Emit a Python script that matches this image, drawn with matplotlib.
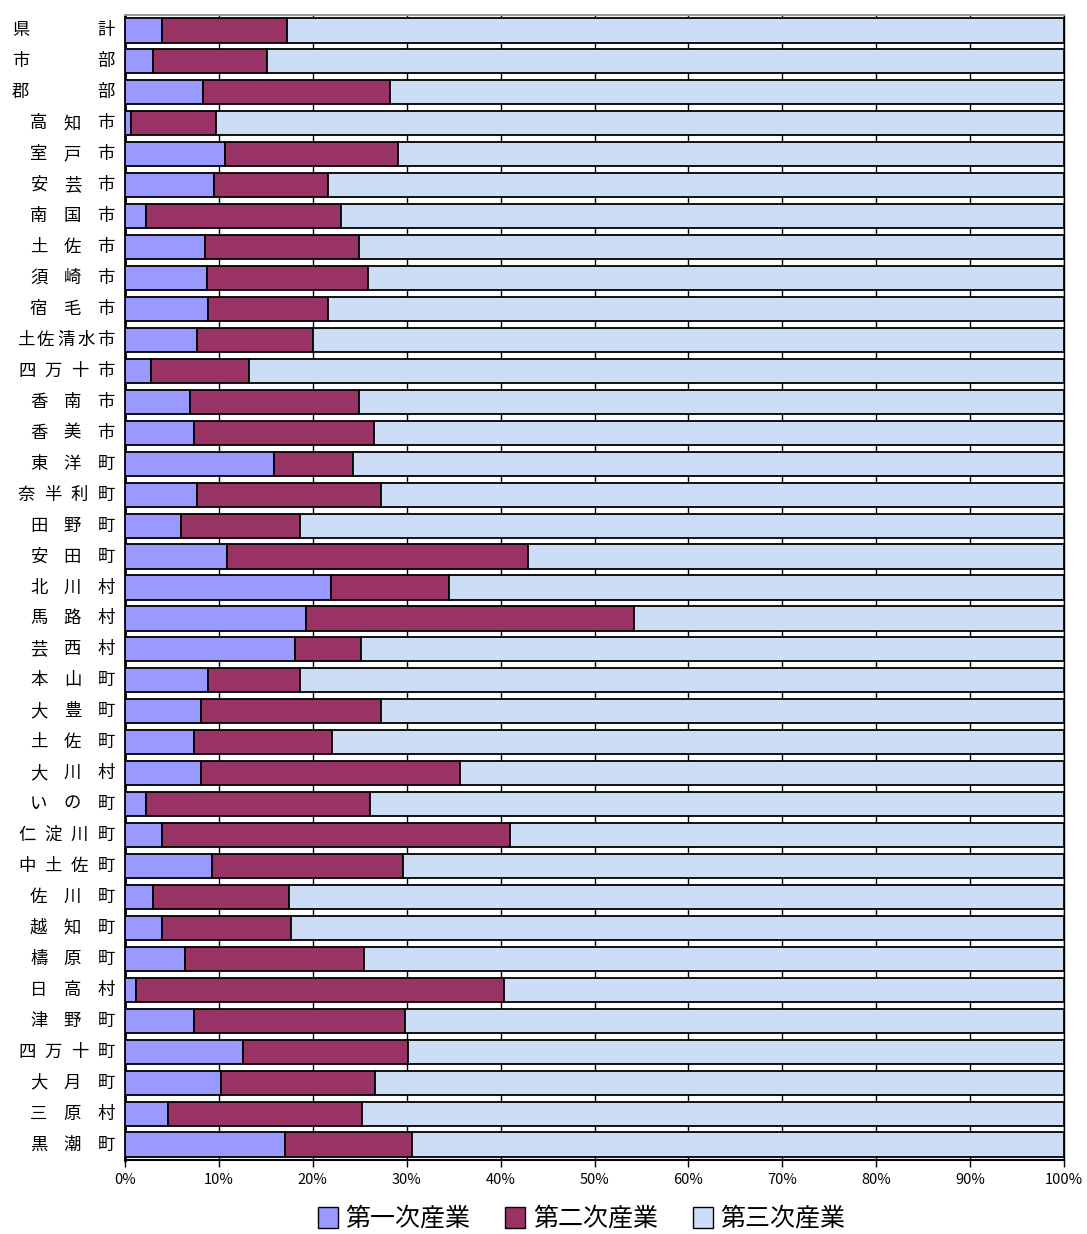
import matplotlib.pyplot as plt
import matplotlib.transforms as mtransforms
from matplotlib.patches import Patch

plt.rcParams['font.family'] = ['Noto Sans CJK JP', 'DejaVu Sans']

names = [
    "県計", "市部", "郡部", "高知市", "室戸市", "安芸市", "南国市", "土佐市",
    "須崎市", "宿毛市", "土佐清水市", "四万十市", "香南市", "香美市", "東洋町",
    "奈半利町", "田野町", "安田町", "北川村", "馬路村", "芸西村", "本山町",
    "大豊町", "土佐町", "大川村", "いの町", "仁淀川町", "中土佐町", "佐川町",
    "越知町", "檮原町", "日高村", "津野町", "四万十町", "大月町", "三原村", "黒潮町",
]
# cumulative shares (%)
primary = [3.9, 3.0, 8.3, 0.6, 10.6, 9.5, 2.2, 8.5, 8.7, 8.8, 7.7, 2.8, 6.9, 7.3,
           15.9, 7.7, 6.0, 10.9, 21.9, 19.3, 18.1, 8.8, 8.1, 7.3, 8.1, 2.2, 3.9,
           9.3, 3.0, 3.9, 6.4, 1.2, 7.3, 12.6, 10.2, 4.6, 17.0]
prim_plus_sec = [17.3, 15.1, 28.2, 9.7, 29.1, 21.6, 23.0, 24.9, 25.9, 21.6, 20.0,
                 13.2, 24.9, 26.5, 24.3, 27.3, 18.6, 42.9, 34.5, 54.2, 25.1, 18.6,
                 27.3, 22.0, 35.7, 26.1, 41.0, 29.6, 17.5, 17.7, 25.5, 40.4, 29.8,
                 30.1, 26.6, 25.2, 30.6]
secondary = [b - a for a, b in zip(primary, prim_plus_sec)]
tertiary = [100 - b for b in prim_plus_sec]

series = ["第一次産業", "第二次産業", "第三次産業"]
colors = ["#9999FF", "#993366", "#CCDDF5"]

fig = plt.figure(figsize=(10.87, 12.34), dpi=100)
ax = fig.add_axes([125 / 1087, 1 - 1160 / 1234, 939 / 1087, 1145 / 1234])

y = list(range(len(names)))
left = [0] * len(names)
for vals, col in zip([primary, secondary, tertiary], colors):
    ax.barh(y, vals, left=left, height=0.78, color=col, edgecolor="black",
            linewidth=1.3, zorder=3)
    left = [l + v for l, v in zip(left, vals)]

ax.set_xlim(0, 100)
ax.set_ylim(len(names) - 0.5, -0.5)
ax.set_xticks(range(0, 101, 10))
ax.set_xticklabels([f"{v}%" for v in range(0, 101, 10)], fontsize=10.5)
ax.tick_params(axis="x", direction="out", length=5, width=1, pad=4)
ax.set_yticks([])
ax.grid(axis="x", color="black", linewidth=1, zorder=0)

for side in ["left", "bottom", "right"]:
    ax.spines[side].set_color("black")
ax.spines["left"].set_linewidth(2)
ax.spines["bottom"].set_linewidth(1.5)
ax.spines["right"].set_linewidth(1)
ax.spines["top"].set_color("#999999")
ax.spines["top"].set_linewidth(1.5)

# category labels, letters spread like the original
trans = mtransforms.blended_transform_factory(fig.transFigure, ax.transData)
starts = {2: 12, 3: 30, 4: 18, 5: 17}
char_w = 17.5
right_px = 115
for i, name in enumerate(names):
    n = len(name)
    x0 = starts[n]
    pitch = (right_px - char_w - x0) / (n - 1)
    for k, ch in enumerate(name):
        xp = x0 + k * pitch
        ax.text(xp / 1087, i, ch, transform=trans, fontsize=12.5,
                ha="left", va="center", color="black")

handles = [Patch(facecolor=c, edgecolor="black", linewidth=1) for c in colors]
fig.legend(handles, series, loc="center", bbox_to_anchor=(0.535, 1 - 1219 / 1234),
           ncol=3, frameon=False, fontsize=18, handlelength=0.8, handleheight=0.9,
           handletextpad=0.3, columnspacing=1.4)

fig.savefig("out.png", dpi=100)
